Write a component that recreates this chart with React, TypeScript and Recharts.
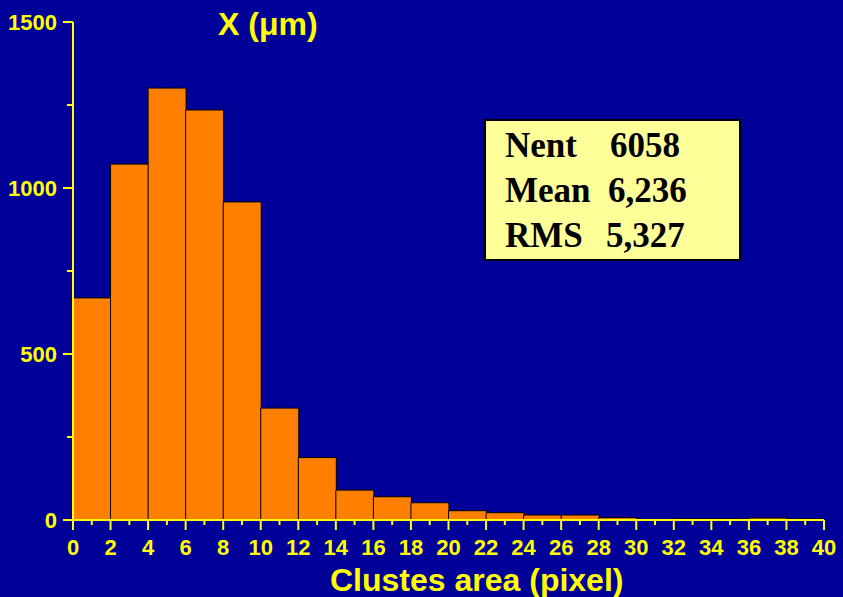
import React from 'react';
import { BarChart, Bar, XAxis, YAxis } from 'recharts';

// bin centres (pixel area) and entries per bin
const binCenters = [1, 3, 5, 7, 9, 11, 13, 15, 17, 19, 21, 23, 25, 27, 29, 31, 33, 35, 37, 39];
const counts = [669, 1072, 1301, 1235, 958, 337, 188, 90, 70, 52, 28, 22, 15, 15, 7, 0, 3, 3, 6, 3];
const xTicks = Array.from({ length: 41 }, (_, i) => i);
const yTicks = [0, 250, 500, 750, 1000, 1250, 1500];
const statLabels = ['Nent', 'Mean', 'RMS'];
const statValues = ['6058', '6,236', '5,327'];

const data = binCenters.map((x, i) => ({ x, count: counts[i] }));

const YELLOW = '#FFFF00';
const BG = '#000099';
const SANS = "'Liberation Sans', Arial, sans-serif";

const YTick = (props: any) => {
  const { x, y, payload } = props;
  const major = payload.value % 500 === 0;
  return (
    <g>
      <line x1={x} x2={x - (major ? 10 : 6)} y1={y} y2={y} stroke={YELLOW} strokeWidth={2} />
      {major && (
        <text x={x - 16} y={y} dy="0.36em" textAnchor="end" fill={YELLOW}
          fontFamily={SANS} fontWeight="bold" fontSize={22}>
          {payload.value}
        </text>
      )}
    </g>
  );
};

const XTick = (props: any) => {
  const { x, y, payload } = props;
  const major = payload.value % 2 === 0;
  return (
    <g>
      <line x1={x} x2={x} y1={y} y2={y + (major ? 10 : 5)} stroke={YELLOW} strokeWidth={2} />
      {major && (
        <text x={x} y={y + 35} textAnchor="middle" fill={YELLOW}
          fontFamily={SANS} fontWeight="bold" fontSize={22}>
          {payload.value}
        </text>
      )}
    </g>
  );
};

export default function App() {
  return (
    <div style={{ position: 'fixed', left: 0, top: 0, width: 843, height: 597, background: BG, overflow: 'hidden' }}>
      <BarChart width={843} height={597} data={data} barCategoryGap={0} barGap={0}
        margin={{ top: 22, right: 19, left: 10, bottom: 0 }}>
        <XAxis dataKey="x" type="number" domain={[0, 40]} ticks={xTicks} interval={0}
          tick={<XTick />} tickLine={false} tickSize={0} tickMargin={0} height={77}
          axisLine={{ stroke: YELLOW, strokeWidth: 2 }} allowDataOverflow />
        <YAxis domain={[0, 1500]} ticks={yTicks} interval={0} tick={<YTick />}
          tickLine={false} tickSize={0} tickMargin={0} width={63}
          axisLine={{ stroke: YELLOW, strokeWidth: 2 }} allowDataOverflow />
        <Bar dataKey="count" fill="#FF8000" stroke="#000000" strokeWidth={1} isAnimationActive={false} />
      </BarChart>
      <div style={{ position: 'absolute', left: 218, top: 5, color: YELLOW, fontFamily: SANS,
        fontWeight: 'bold', fontSize: 32, lineHeight: '38px', whiteSpace: 'nowrap' }}>
        X (μm)
      </div>
      <div style={{ position: 'absolute', left: 330, top: 561, color: YELLOW, fontFamily: SANS,
        fontWeight: 'bold', fontSize: 32, lineHeight: '38px', whiteSpace: 'nowrap' }}>
        Clustes area (pixel)
      </div>
      <div style={{ position: 'absolute', left: 484, top: 119, width: 253, height: 138, background: '#FFFF99',
        border: '2px solid #000', fontFamily: "'Liberation Serif', 'Times New Roman', serif", fontWeight: 'bold', fontSize: 35 }}>
        {statLabels.map((label, i) => (
          <div key={label} style={{ position: 'absolute', top: 5 + i * 45, left: 19, lineHeight: '40px', whiteSpace: 'nowrap' }}>
            <span>{label}</span>
            <span style={{ position: 'absolute', left: 105 - (i === 2 ? 4 : i === 1 ? 2 : 0) }}>{statValues[i]}</span>
          </div>
        ))}
      </div>
    </div>
  );
}
